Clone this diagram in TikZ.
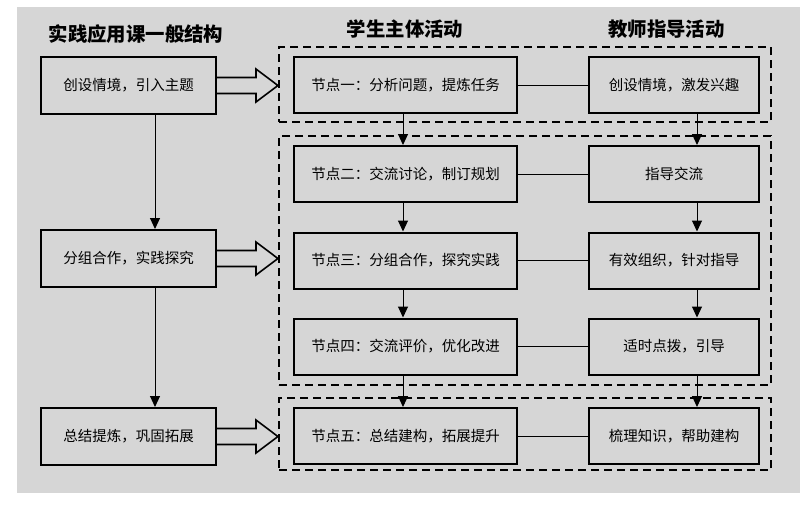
\documentclass[tikz,border=0pt]{standalone}
\usepackage{fontspec}
\setmainfont{Noto Sans CJK SC}
\usetikzlibrary{calc,arrows.meta}
\definecolor{bg}{RGB}{214,214,214}
\tikzset{
  box/.style={draw=black, line width=2pt, fill=bg, rectangle, inner sep=0pt, font=\fontsize{14.5pt}{16pt}\selectfont},
  lbox/.style={box, minimum width=175pt, minimum height=57pt},
  sbox/.style={box, minimum width=223pt, minimum height=56pt},
  tbox/.style={box, minimum width=170pt, minimum height=56pt},
  dbox/.style={draw=black, line width=2.2pt, dash pattern=on 8pt off 5pt, rectangle, inner sep=0pt, minimum width=492pt},
  head/.style={font=\fontsize{19.4pt}{21pt}\selectfont\bfseries, inner sep=0pt},
  arr/.style={line width=1pt, -{Triangle[length=11pt,width=10pt]}},
  link/.style={line width=1pt},
  blk/.style={line width=1.6pt, line join=miter},
}
\begin{document}
\begin{tikzpicture}[x=1pt,y=-1pt]
\useasboundingbox (0,0) rectangle (800,504);
\fill[bg] (17,7) rectangle (800,493);

% headers
\node[head] (title) at (136,34) {实践应用课一般结构};
\node[head] (hs) at (405,29.5) {学生主体活动};
\node[head] (ht) at (666.5,29.5) {教师指导活动};

% dashed groups
\node[dbox, minimum height=75pt] (d1) at (525,84.5) {};
\node[dbox, minimum height=249pt] (d2) at (525,260.5) {};
\node[dbox, minimum height=72pt] (d3) at (525,434) {};

% left column
\node[lbox] (b1) at (128.5,85.5) {创设情境，引入主题};
\node[lbox] (b2) at (128.5,258.5) {分组合作，实践探究};
\node[lbox] (b3) at (128.5,436.5) {总结提炼，巩固拓展};

% student column
\node[sbox] (s1) at (405.5,85) {节点一：分析问题，提炼任务};
\node[sbox] (s2) at (405.5,174) {节点二：交流讨论，制订规划};
\node[sbox] (s3) at (405.5,260.5) {节点三：分组合作，探究实践};
\node[sbox] (s4) at (405.5,346.5) {节点四：交流评价，优化改进};
\node[sbox] (s5) at (405.5,436) {节点五：总结建构，拓展提升};

% teacher column
\node[tbox] (t1) at (674,85) {创设情境，激发兴趣};
\node[tbox] (t2) at (674,174) {指导交流};
\node[tbox] (t3) at (674,260.5) {有效组织，针对指导};
\node[tbox] (t4) at (674,346.5) {适时点拨，引导};
\node[tbox] (t5) at (674,436) {梳理知识，帮助建构};

% left arrows
\draw[arr] ([xshift=26.5pt]b1.south) -- ([xshift=26.5pt]b2.north);
\draw[arr] ([xshift=26.5pt]b2.south) -- ([xshift=26.5pt]b3.north);

% student arrows
\foreach \a/\b in {s1/s2,s2/s3,s3/s4,s4/s5}{
  \draw[arr] ([xshift=-2.5pt]\a.south) -- ([xshift=-2.5pt]\b.north);
}
% teacher arrows
\foreach \a/\b in {t1/t2,t4/t5}{
  \draw[arr] ([xshift=23pt]\a.south) -- ([xshift=23pt]\b.north);
}
\draw[arr] ([xshift=23pt]t2.south) -- ([xshift=23pt]t3.north);
\draw[arr] ([xshift=23pt]t3.south) -- ([xshift=23pt]t4.north);

% links
\foreach \i in {1,...,5}{
  \draw[link] (s\i.east) -- (t\i.west);
}

% block arrows
\foreach \b/\d in {b1/d1,b2/d2,b3/d3}{
  \draw[blk] ($(\b.east)+(0,-8)$) -- ($(\b.east)+(39,-8)$) -- ($(\b.east)+(39,-16.5)$)
    -- (\d.west |- \b.east) -- ($(\b.east)+(39,16.5)$) -- ($(\b.east)+(39,8)$) -- ($(\b.east)+(0,8)$);
}
\end{tikzpicture}
\end{document}
